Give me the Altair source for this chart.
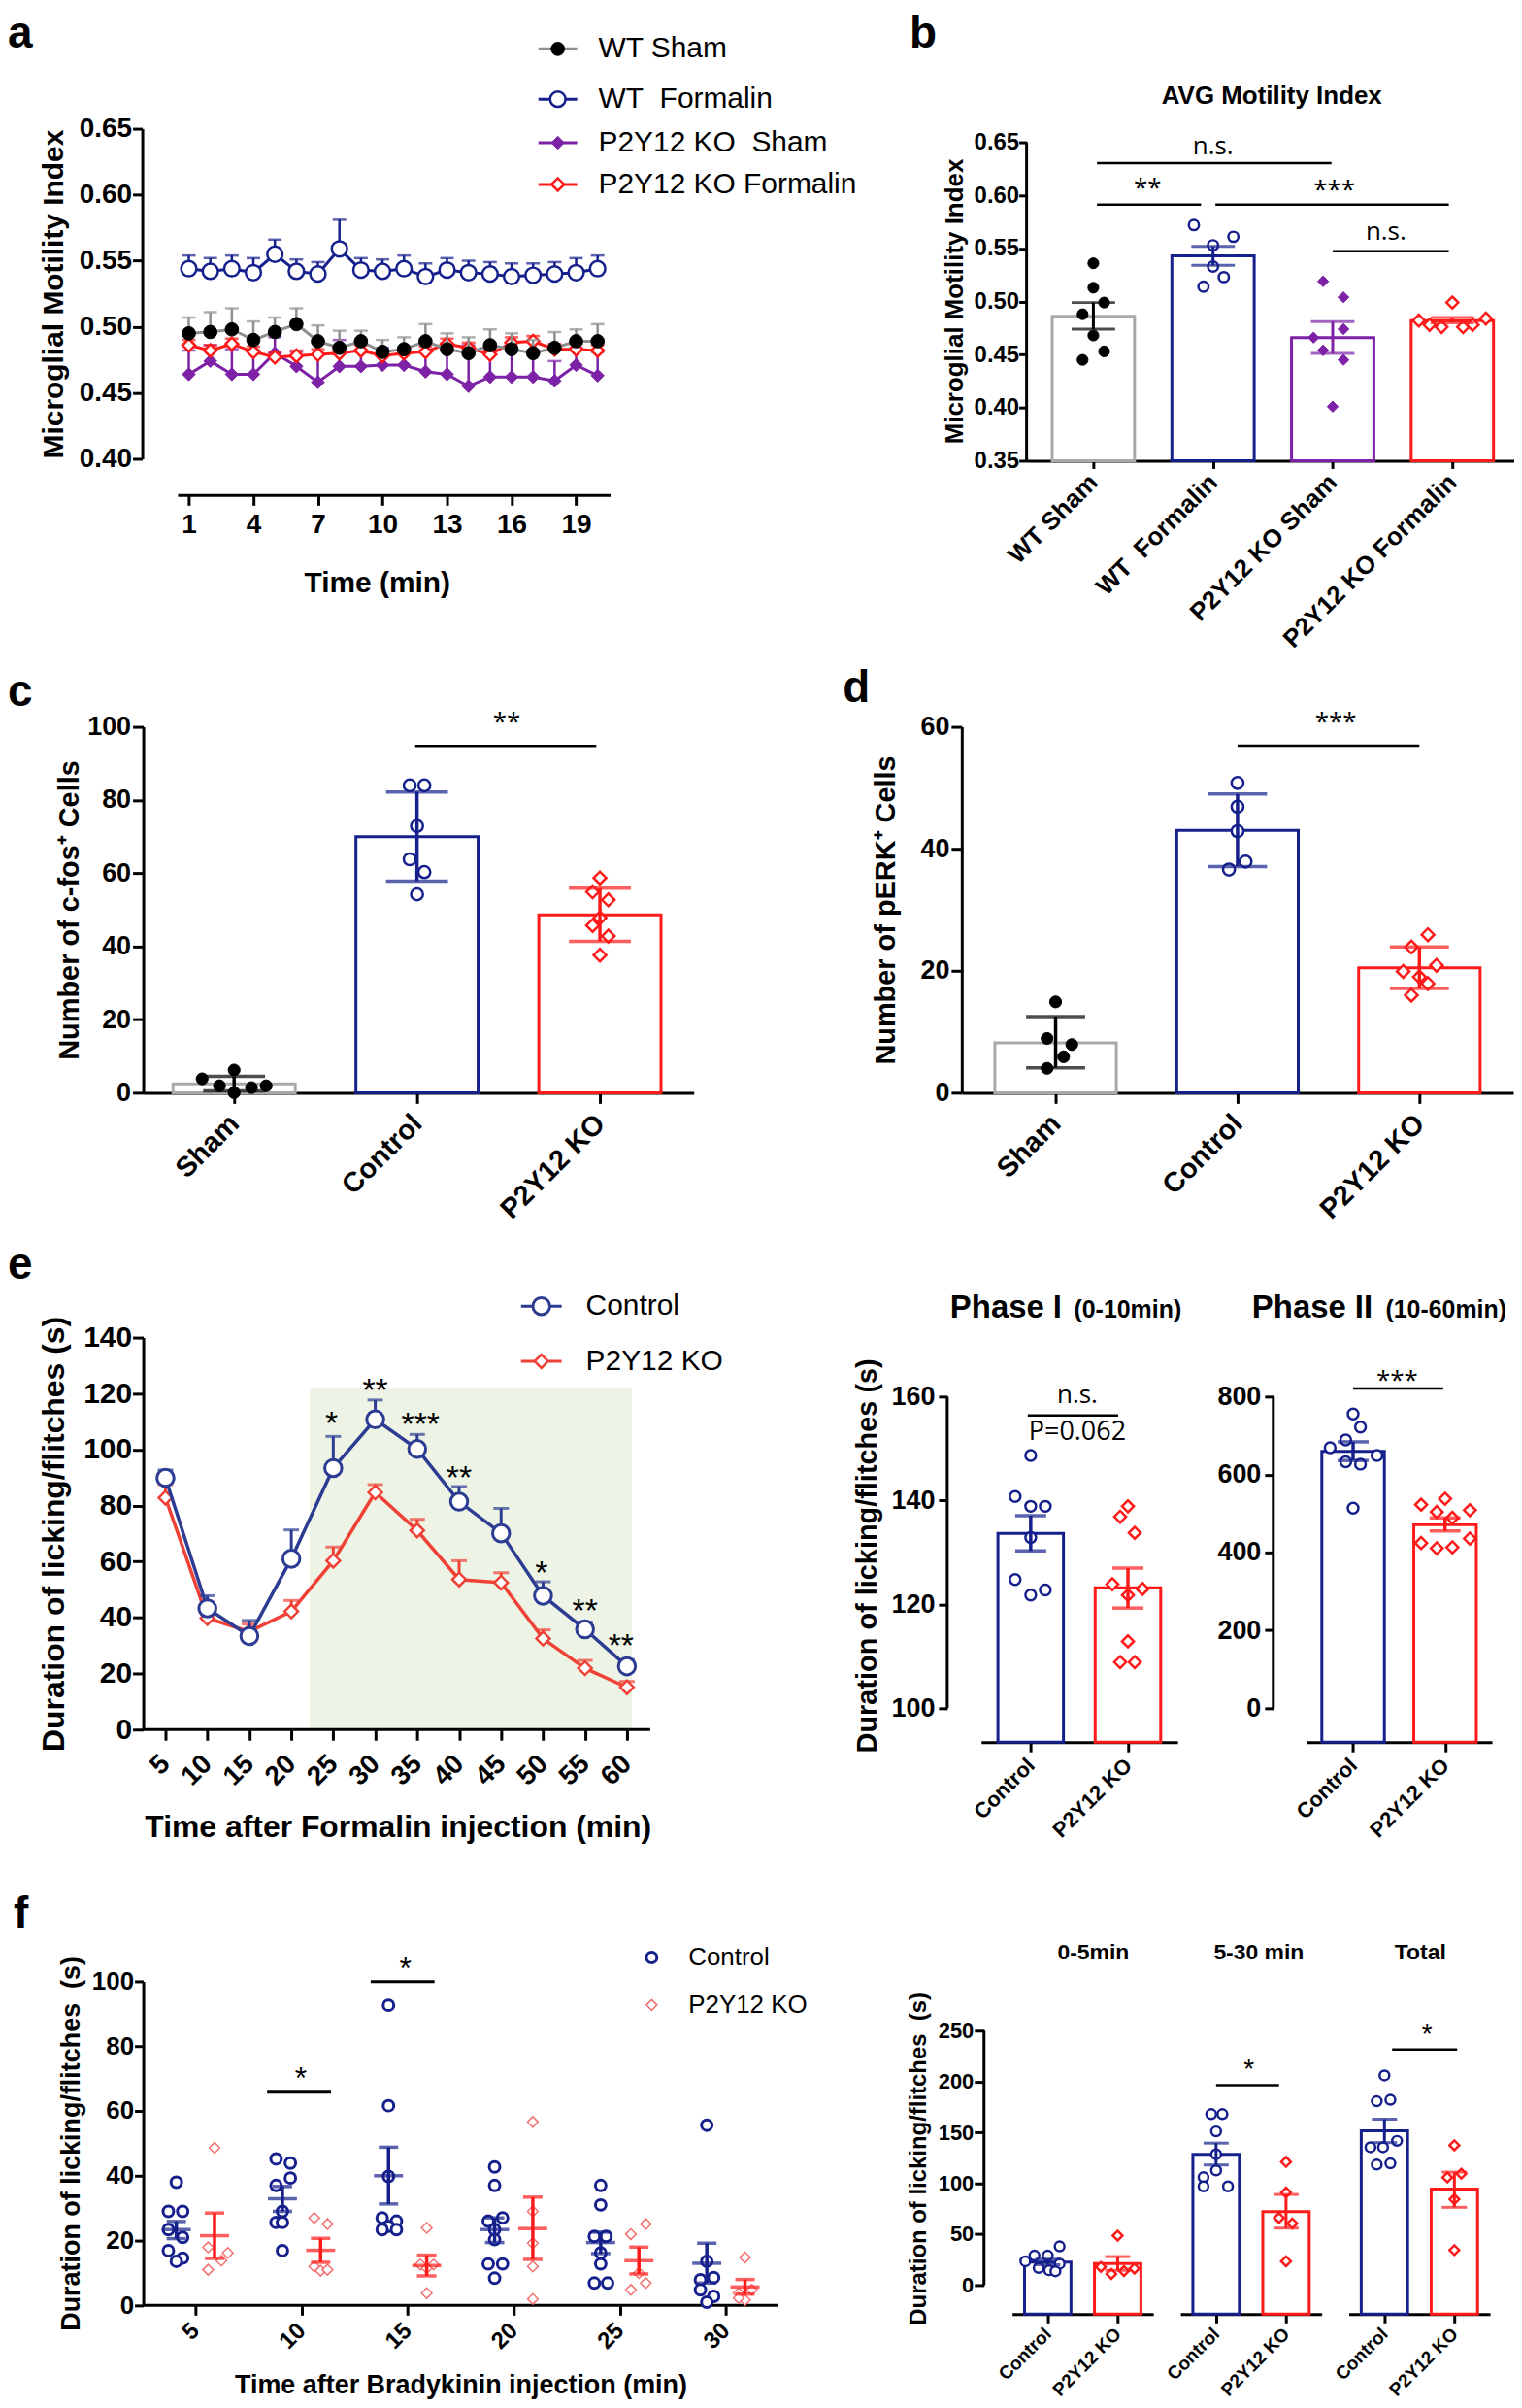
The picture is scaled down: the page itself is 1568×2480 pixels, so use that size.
import json
import altair as alt
import pandas as pd

SANS = "Liberation Sans"
HUM = "Open Sans"
NB = "\u00a0"

NAVY = "#16208c"
NAVY_E = "#2d3c93"
RED = "#ff1a1a"
RED_E = "#ef4136"
RED_PALE = "#f47171"
GRAY_BAR = "#a9a9a9"
GRAY_LINE = "#8e8e8e"
PURPLE = "#7d22a6"
GREEN_BG = "#edf4e6"

# ============================ DATA ============================
# (a) microglial motility time course
a_minutes = list(range(1, 21))
a_xticks = [1, 4, 7, 10, 13, 16, 19]
a_yticks = [0.40, 0.45, 0.50, 0.55, 0.60, 0.65]
a_names = ["WT Sham", "WT" + NB + " Formalin", "P2Y12 KO" + NB + " Sham", "P2Y12 KO Formalin"]
a_wt_sham = [0.495, 0.496, 0.498, 0.490, 0.496, 0.502, 0.489, 0.484, 0.489, 0.481,
             0.483, 0.489, 0.483, 0.480, 0.486, 0.483, 0.480, 0.484, 0.489, 0.489]
a_wt_sham_top = [0.507, 0.511, 0.514, 0.504, 0.507, 0.514, 0.501, 0.497, 0.497, 0.490,
                 0.492, 0.502, 0.495, 0.492, 0.498, 0.495, 0.490, 0.496, 0.498, 0.502]
a_wt_form = [0.544, 0.542, 0.544, 0.541, 0.555, 0.542, 0.540, 0.559, 0.543, 0.542,
             0.544, 0.538, 0.543, 0.541, 0.540, 0.538, 0.539, 0.540, 0.541, 0.544]
a_wt_form_top = [0.554, 0.552, 0.554, 0.552, 0.566, 0.551, 0.549, 0.581, 0.552, 0.551,
                 0.554, 0.548, 0.552, 0.550, 0.549, 0.548, 0.548, 0.549, 0.552, 0.554]
a_ko_sham = [0.464, 0.474, 0.464, 0.464, 0.480, 0.470, 0.458, 0.470, 0.470, 0.471,
             0.471, 0.466, 0.464, 0.455, 0.462, 0.462, 0.462, 0.459, 0.471, 0.463]
a_ko_sham_top = [0.482, 0.486, 0.483, 0.482, 0.492, 0.481, 0.479, 0.490, 0.488, 0.484,
                 0.484, 0.482, 0.482, 0.486, 0.482, 0.483, 0.482, 0.474, 0.484, 0.481]
a_ko_form = [0.486, 0.482, 0.487, 0.481, 0.477, 0.478, 0.479, 0.480, 0.482, 0.478,
             0.480, 0.481, 0.487, 0.484, 0.479, 0.488, 0.489, 0.483, 0.483, 0.482]
a_ko_form_top = [0.490, 0.486, 0.491, 0.485, 0.481, 0.482, 0.483, 0.484, 0.486, 0.482,
                 0.484, 0.485, 0.491, 0.488, 0.483, 0.492, 0.493, 0.487, 0.487, 0.486]

# (b) average motility index
b_groups = ["WT Sham", "WT" + NB + " Formalin", "P2Y12 KO Sham", "P2Y12 KO Formalin"]
b_yticks = [0.35, 0.40, 0.45, 0.50, 0.55, 0.60, 0.65]
b_mean = [0.486, 0.543, 0.466, 0.482]
b_lo = [0.474, 0.534, 0.451, 0.480]
b_hi = [0.499, 0.552, 0.481, 0.485]
b_points = [[0.536, 0.513, 0.499, 0.488, 0.468, 0.453, 0.445],
            [0.572, 0.561, 0.553, 0.533, 0.523, 0.514],
            [0.519, 0.504, 0.474, 0.466, 0.454, 0.445, 0.401],
            [0.482, 0.478, 0.476, 0.499, 0.476, 0.478, 0.484]]
b_jitter = [[0.0, 0.0, 0.09, -0.09, 0.0, 0.09, -0.09],
            [-0.16, 0.17, 0.0, 0.0, 0.09, -0.08],
            [-0.08, 0.09, 0.09, -0.16, -0.08, 0.09, 0.0],
            [-0.28, -0.19, -0.09, 0.0, 0.09, 0.17, 0.28]]
b_sig_x1 = [0.03, 0.03, 1.02, 2.0]
b_sig_x2 = [1.99, 0.90, 2.97, 2.97]
b_sig_y = [0.6304, 0.5912, 0.5912, 0.5474]
b_ns_x, b_ns_y = [1.0, 2.445], [0.6463, 0.5652]
b_star_text, b_star_x, b_star_y = ["**", "***"], [0.453, 2.013], [0.6126, 0.6107]

# (c) c-fos
c_groups = ["Sham", "Control", "P2Y12 KO"]
c_mean = [2.4, 70.0, 48.6]
c_lo = [0.5, 57.8, 41.4]
c_hi = [4.5, 82.2, 55.9]
c_points = [[3.8, 6.2, 1.9, 1.4, 1.9, 0.0],
            [84.0, 84.0, 72.9, 63.8, 60.3, 54.2],
            [58.7, 54.9, 52.7, 47.8, 45.7, 42.8, 37.6]]
c_jitter = [[-0.175, 0.0, -0.08, 0.095, 0.175, 0.0],
            [-0.04, 0.04, 0.0, -0.04, 0.04, 0.0],
            [0.0, -0.04, 0.046, 0.0, -0.04, 0.046, 0.0]]
c_sig = (0.99, 1.98, 94.8, "**", 1.49, 103.0)

# (d) pERK
d_mean = [8.2, 43.0, 20.5]
d_lo = [4.1, 37.1, 17.1]
d_hi = [12.5, 49.0, 23.9]
d_points = [[14.9, 8.9, 7.9, 5.9, 4.0],
            [50.8, 46.9, 42.9, 37.9, 36.6],
            [25.9, 23.9, 20.9, 19.9, 19.0, 17.9, 16.0]]
d_jitter = [[0.0, -0.047, 0.089, 0.044, -0.047],
            [0.0, 0.0, 0.0, 0.044, -0.047],
            [0.047, -0.044, 0.094, -0.089, 0.0, 0.047, -0.044]]
d_sig = (1.0, 2.0, 56.9, "***", 1.54, 61.8)

# (e) formalin time course
e_times = [5, 10, 15, 20, 25, 30, 35, 40, 45, 50, 55, 60]
e_ctrl = [89.9, 43.3, 33.4, 61.0, 93.4, 110.8, 100.2, 81.4, 70.1, 47.8, 35.8, 22.6]
e_ctrl_top = [92.7, 47.8, 39.0, 71.3, 104.7, 117.7, 105.4, 86.8, 79.0, 52.8, 38.4, 25.0]
e_ko = [82.8, 39.8, 35.0, 42.2, 60.3, 84.7, 71.1, 53.6, 52.5, 32.5, 21.9, 15.1]
e_ko_top = [87.5, 45.4, 37.7, 46.1, 65.2, 87.5, 75.1, 60.3, 56.0, 35.6, 24.7, 17.2]
e_phase2 = (22.2, 60.6, 0, 122)
e_star_text = ["*", "**", "***", "**", "*", "**", "**"]
e_star_x = [24.8, 30.0, 35.4, 40.0, 49.8, 55.0, 59.3]
e_star_y = [112.0, 124.0, 111.6, 92.5, 58.8, 45.0, 32.7]

# (e) phase I / phase II
ph_groups = ["Control", "P2Y12 KO"]
p1_mean, p1_lo, p1_hi = [133.7, 123.2], [130.3, 119.3], [137.1, 127.0]
p1_points = [[148.7, 140.8, 138.9, 138.9, 132.9, 124.8, 121.8, 122.8],
             [138.9, 136.9, 133.8, 123.9, 121.8, 123.0, 112.9, 108.9, 108.9]]
p1_jitter = [[0.0, -0.16, 0.0, 0.15, 0.0, -0.16, 0.0, 0.15],
             [0.0, -0.08, 0.07, -0.16, 0.0, 0.15, 0.0, -0.08, 0.07]]
p2_mean, p2_lo, p2_hi = [659.6, 471.0], [636.0, 455.0], [684.0, 489.0]
p2_points = [[755.6, 721.8, 688.9, 669.0, 649.0, 632.9, 626.7, 513.8],
             [537.8, 522.7, 508.4, 504.0, 489.0, 424.0, 410.7, 413.3, 435.6]]
p2_jitter = [[0.0, 0.08, -0.08, -0.25, 0.26, -0.08, 0.08, 0.0],
             [0.0, -0.26, 0.27, -0.09, 0.08, -0.26, -0.09, 0.08, 0.27]]

# (f) bradykinin time course
f_times = [5, 10, 15, 20, 25, 30]
f_ctrl_pts = [[38.0, 29.0, 29.0, 23.4, 21.0, 16.9, 14.6, 13.6],
              [45.2, 43.9, 39.3, 37.0, 29.0, 25.6, 25.6, 16.9],
              [92.6, 61.6, 39.8, 27.0, 26.0, 24.4, 23.4, 23.4],
              [42.7, 37.0, 26.0, 27.0, 23.4, 20.3, 12.8, 12.8, 8.4],
              [37.0, 31.0, 21.3, 21.3, 16.2, 12.8, 6.9, 6.9],
              [55.6, 13.6, 7.9, 8.6, 4.8, 2.8, 1.0]]
f_ctrl_jit = [[0.0, -0.375, 0.3, -0.375, 0.3, -0.375, 0.3, 0.0],
              [-0.3, 0.375, 0.375, -0.3, 0.0, -0.3, 0.0, 0.0],
              [0.0, 0.0, 0.0, -0.3, 0.375, 0.0, 0.375, -0.3],
              [0.0, 0.0, -0.3, 0.375, 0.0, 0.0, -0.3, 0.375, 0.0],
              [0.0, 0.0, -0.3, 0.25, 0.0, 0.0, -0.3, 0.325],
              [0.0, 0.0, -0.3, 0.325, -0.3, 0.325, 0.0]]
f_ctrl_mean = [23.4, 32.9, 40.0, 23.4, 19.4, 13.0]
f_ctrl_lo = [20.6, 29.0, 31.3, 19.4, 16.0, 6.9]
f_ctrl_hi = [25.9, 36.7, 48.8, 27.0, 22.6, 19.2]
f_ko_pts = [[48.6, 17.9, 16.2, 13.8, 11.0],
            [27.0, 25.1, 12.0, 10.7, 11.0],
            [23.9, 12.6, 12.6, 11.5, 3.8],
            [56.6, 29.0, 19.2, 12.0, 2.0],
            [22.0, 25.1, 10.0, 4.8, 6.9],
            [14.8, 3.8, 4.8, 1.7, 2.3]]
f_ko_jit = [[0.0, -0.3, 0.625, 0.325, -0.3],
            [-0.3, 0.325, -0.3, 0.0, 0.325],
            [0.0, -0.3, 0.325, 0.0, 0.0],
            [0.0, 0.0, 0.0, 0.0, 0.0],
            [-0.375, 0.325, 0.0, -0.375, 0.325],
            [0.0, -0.3, 0.325, 0.0, -0.3]]
f_ko_mean = [21.5, 17.0, 12.3, 23.7, 13.8, 5.7]
f_ko_lo = [14.5, 13.3, 9.1, 14.2, 9.7, 3.5]
f_ko_hi = [28.5, 20.7, 15.5, 33.4, 18.0, 8.0]
f_sig_x1, f_sig_x2, f_sig_y = [8.38, 13.26], [11.39, 16.27], [65.8, 99.9]
f_star_x, f_star_y = [9.97, 14.9], [72.7, 106.4]

# (f) summary bars
fr_titles = ["0-5min", "5-30 min", "Total"]
fr_mean = [[22.7, 21.2], [128.5, 72.3], [151.5, 94.4]]
fr_lo = [[20.0, 14.5], [118.0, 56.0], [140.0, 76.4]]
fr_hi = [[25.5, 28.0], [139.5, 89.0], [163.0, 111.0]]
fr_pts = [[[38.0, 29.0, 29.0, 23.4, 21.0, 16.9, 14.6, 13.6], [48.6, 17.9, 16.2, 13.8, 11.0]],
          [[168.0, 168.0, 151.0, 128.5, 112.7, 106.0, 97.0, 97.0], [121.0, 91.0, 66.0, 60.6, 23.4]],
          [[206.0, 180.6, 182.0, 141.7, 135.4, 135.4, 118.4, 119.6], [137.3, 105.8, 109.5, 84.3, 34.4]]]
fr_jit = [[[0.17, -0.19, 0.0, -0.32, 0.17, -0.13, 0.02, 0.11], [0.0, -0.24, 0.24, 0.09, -0.09]],
          [[-0.07, 0.09, 0.0, 0.0, 0.0, -0.18, -0.18, 0.17], [0.0, 0.0, -0.1, 0.09, 0.0]],
          [[0.0, -0.11, 0.085, 0.18, -0.2, -0.02, -0.11, 0.085], [0.0, -0.1, 0.1, 0.0, 0.0]]]
fr_sig = {1: (0.0, 0.9, 196.3, 0.47, 219.1), 2: (0.11, 1.04, 231.5, 0.61, 253.3)}


# ============================ HELPERS ============================
def lin(lo, hi):
    return alt.Scale(domain=[lo, hi], nice=False, zero=False)


def names_expr(names):
    return json.dumps(names) + "[datum.value]"


def text_px(s, x, y, size, weight="bold", align="left", baseline="top", font=SANS):
    return alt.Chart(pd.DataFrame({"s": [s]})).mark_text(
        font=font, fontSize=size, fontWeight=weight, align=align, baseline=baseline, color="black"
    ).encode(x=alt.value(x), y=alt.value(y), text="s:N")


def frame(top, bottom, left=-140):
    return alt.Chart(pd.DataFrame({"s": [0]})).mark_rule(opacity=0, strokeWidth=1, color="white").encode(
        x=alt.value(left), y=alt.value(top), y2=alt.value(bottom))


def legend_row(x0, x1, xt, y, label, line_color, shape, fill, stroke, size, sw, fsize):
    d = pd.DataFrame({"s": [label]})
    out = []
    if line_color is not None:
        out.append(alt.Chart(d).mark_rule(color=line_color, strokeWidth=3).encode(
            x=alt.value(x0), x2=alt.value(x1), y=alt.value(y)))
    out.append(alt.Chart(d).mark_point(shape=shape, size=size, filled=True, fill=fill, stroke=stroke,
                                       strokeWidth=sw, opacity=1).encode(x=alt.value((x0 + x1) / 2), y=alt.value(y)))
    out.append(alt.Chart(d).mark_text(font=SANS, fontSize=fsize, align="left", baseline="middle",
                                      color="black").encode(x=alt.value(xt), y=alt.value(y), text="s:N"))
    return out


def bar_layers(X, Y, means, lo, hi, base, half, bar_cols, err_cols, cap, err_w, pts, jit,
               shapes, fills, strokes, sizes, psw, bar_w=3):
    n = len(means)
    idx = list(range(n))
    bars = pd.DataFrame({"i": idx, "x0": [i - half for i in idx], "x1": [i + half for i in idx],
                         "m": means, "b": [base] * n, "c": bar_cols})
    layers = [alt.Chart(bars).mark_rect(fill="white", strokeWidth=bar_w).encode(
        x=X("x0:Q"), x2="x1:Q", y=Y("m:Q"), y2="b:Q", stroke=alt.Stroke("c:N", scale=None))]
    for g in idx:
        df = pd.DataFrame({"x": [g + j for j in jit[g]], "v": pts[g]})
        layers.append(alt.Chart(df).mark_point(shape=shapes[g], size=sizes[g], filled=True, fill=fills[g],
                                               stroke=strokes[g], strokeWidth=psw[g], opacity=1).encode(
            x=X("x:Q"), y=Y("v:Q")))
    err = pd.DataFrame({"i": idx, "lo": lo, "hi": hi, "c": err_cols})
    layers.append(alt.Chart(err).mark_rule(strokeWidth=err_w).encode(
        x=X("i:Q"), y=Y("lo:Q"), y2="hi:Q", stroke=alt.Stroke("c:N", scale=None)))
    caps = pd.DataFrame({"i": idx * 2, "y": list(lo) + list(hi), "c": list(err_cols) * 2})
    layers.append(alt.Chart(caps).mark_tick(orient="horizontal", size=cap, thickness=err_w).encode(
        x=X("i:Q"), y=Y("y:Q"), color=alt.Color("c:N", scale=None)))
    return layers


def sig_rules(X, Y, x1, x2, y, lw=2.5):
    df = pd.DataFrame({"x1": x1, "x2": x2, "y": y})
    return alt.Chart(df).mark_rule(color="black", strokeWidth=lw).encode(x=X("x1:Q"), x2="x2:Q", y=Y("y:Q"))


def sig_text(X, Y, texts, xs, ys, size, font=HUM, star=False):
    df = pd.DataFrame({"t": texts, "x": xs, "y": ys})
    dy = round(0.27 * size) if star else 0
    return alt.Chart(df).mark_text(font=font, fontSize=size, color="black", align="center",
                                   baseline="middle", dy=dy).encode(x=X("x:Q"), y=Y("y:Q"), text="t:N")


def y_rule(Y, lo, hi, xpix):
    df = pd.DataFrame({"lo": [lo], "hi": [hi]})
    return alt.Chart(df).mark_rule(color="black", strokeWidth=3).encode(x=alt.value(xpix), y=Y("lo:Q"), y2="hi:Q")


def x_rule(X, lo, hi, ypix):
    df = pd.DataFrame({"x0": [lo], "x1": [hi]})
    return alt.Chart(df).mark_rule(color="black", strokeWidth=3).encode(x=X("x0:Q"), x2="x1:Q", y=alt.value(ypix))


# ============================ PANEL a ============================
A_W, A_H, A_XOFF = 483, 341, 38
a_xs, a_ys = lin(-1.119, 20.6), lin(0.40, 0.65)
a_xax = alt.Axis(title="Time (min)", values=a_xticks, offset=A_XOFF, domain=False, labelAngle=0,
                 labelFontSize=28, titleFontSize=30, tickSize=10, labelPadding=6, titlePadding=31)
a_yax = alt.Axis(title="Microglial Motility Index", values=a_yticks, format=".2f", offset=1,
                 labelFontSize=28, titleFontSize=30, tickSize=10, labelPadding=1, titlePadding=11)


def aX(f):
    return alt.X(f, scale=a_xs, axis=a_xax)


def aY(f):
    return alt.Y(f, scale=a_ys, axis=a_yax)


a_style = {
    a_names[0]: (a_wt_sham, a_wt_sham_top, GRAY_LINE, "circle", "black", "black", 190, 1),
    a_names[1]: (a_wt_form, a_wt_form_top, NAVY, "circle", "white", NAVY, 250, 2.5),
    a_names[2]: (a_ko_sham, a_ko_sham_top, PURPLE, "diamond", PURPLE, PURPLE, 180, 1),
    a_names[3]: (a_ko_form, a_ko_form_top, RED, "diamond", "white", RED, 170, 2.5),
}
a_layers = [frame(-121, 548), text_px("a", -140, -120, 46), x_rule(aX, 0.5, 20.6, A_H + A_XOFF)]
for name in [a_names[2], a_names[3], a_names[0], a_names[1]]:
    v, top, lc, shp, fi, st, sz, sw = a_style[name]
    base = alt.Chart(pd.DataFrame({"t": a_minutes, "v": v, "top": top}))
    a_layers += [
        base.mark_rule(color=lc, strokeWidth=2.5).encode(x=aX("t:Q"), y=aY("v:Q"), y2="top:Q"),
        base.mark_tick(color=lc, orient="horizontal", size=14, thickness=2.5).encode(x=aX("t:Q"), y=aY("top:Q")),
        base.mark_line(color=lc, strokeWidth=3).encode(x=aX("t:Q"), y=aY("v:Q")),
        base.mark_point(shape=shp, size=sz, filled=True, fill=fi, stroke=st, strokeWidth=sw,
                        opacity=1).encode(x=aX("t:Q"), y=aY("v:Q")),
    ]
for k, y in zip(range(4), [-82.5, -30.5, 14.5, 57.5]):
    v, top, lc, shp, fi, st, sz, sw = a_style[a_names[k]]
    a_layers += legend_row(408.5, 448.5, 470.5, y, a_names[k], lc, shp, fi, st, sz, sw, 30)
chart_a = alt.layer(*a_layers).properties(width=A_W, height=A_H)

# ============================ PANEL b ============================
B_W, B_H = 504, 343
b_xs, b_ys = lin(-0.558, 3.517), lin(0.35, 0.6628)
b_xax = alt.Axis(title=None, values=[0, 1, 2, 3], labelExpr=names_expr(b_groups), labelAngle=-45,
                 labelAlign="right", labelBaseline="middle", labelFontSize=26, tickSize=8, labelPadding=10,
                 labelLimit=500)
b_yax = alt.Axis(title="Microglial Motility Index", values=b_yticks, format=".2f", domain=False,
                 labelFontSize=24, titleFontSize=26, tickSize=8, labelPadding=0, titlePadding=7, titleY=178)


def bX(f):
    return alt.X(f, scale=b_xs, axis=b_xax)


def bY(f):
    return alt.Y(f, scale=b_ys, axis=b_yax)


b_layers = [text_px("b", -121, -120, 46), y_rule(bY, 0.35, 0.65, 0)]
b_layers += bar_layers(bX, bY, b_mean, b_lo, b_hi, 0.35, 0.344,
                       [GRAY_BAR, NAVY, PURPLE, RED], ["black", NAVY, PURPLE, RED], 45, 3,
                       b_points, b_jitter, ["circle", "circle", "diamond", "diamond"],
                       ["black", "white", PURPLE, "white"], ["black", NAVY, PURPLE, RED],
                       [125, 110, 130, 150], [1, 2.5, 1, 2.5])
b_layers += [sig_rules(bX, bY, b_sig_x1, b_sig_x2, b_sig_y),
             sig_text(bX, bY, ["n.s.", "n.s."], b_ns_x, b_ns_y, 26),
             sig_text(bX, bY, b_star_text, b_star_x, b_star_y, 26, star=True),
             text_px("AVG Motility Index", 253.5, -34, 26, align="center", baseline="middle")]
chart_b = alt.layer(*b_layers).properties(width=B_W, height=B_H)


# ============================ PANELS c, d ============================
def count_panel(letter, lpos, w, xdom, ydom, yticks, ytitle, tpad, means, lo, hi, pts, jit, sig, cap, add_frame):
    xs, ys = lin(*xdom), lin(*ydom)
    xax = alt.Axis(title=None, values=[0, 1, 2], labelExpr=names_expr(c_groups), labelAngle=-45,
                   labelAlign="right", labelBaseline="middle", labelFontSize=29, tickSize=11, labelPadding=16,
                   labelLimit=500)
    yax = alt.Axis(title=ytitle, values=yticks, labelFontSize=27, titleFontSize=29, tickSize=11,
                   labelPadding=2, titlePadding=tpad)
    X = lambda f: alt.X(f, scale=xs, axis=xax)
    Y = lambda f: alt.Y(f, scale=ys, axis=yax)
    layers = []
    if add_frame:
        layers.append(frame(-70, 531))
    layers.append(text_px(letter, lpos[0], lpos[1], 46))
    layers += bar_layers(X, Y, means, lo, hi, 0, 0.334, [GRAY_BAR, NAVY, RED], ["black", NAVY, RED], cap, 3.5,
                         pts, jit, ["circle", "circle", "diamond"], ["black", "white", "white"],
                         ["black", NAVY, RED], [150, 150, 170], [1, 2.5, 2.5])
    x1, x2, yl, st, sx, sy = sig
    layers += [sig_rules(X, Y, [x1], [x2], [yl]), sig_text(X, Y, [st], [sx], [sy], 26, star=True)]
    return alt.layer(*layers).properties(width=w, height=378)


chart_c = count_panel("c", (-140, -58), 569, (-0.497, 2.513), (0, 100), [0, 20, 40, 60, 80, 100],
                      "Number of c-fos\u207a Cells", 3, c_mean, c_lo, c_hi, c_points, c_jitter, c_sig, 64, True)
chart_d = count_panel("d", (-123, -62), 570, (-0.516, 2.516), (0, 60), [0, 20, 40, 60],
                      "Number of pERK\u207a Cells", 21, d_mean, d_lo, d_hi, d_points, d_jitter, d_sig, 61, False)

# ============================ PANEL e (time course) ============================
E_W, E_H = 733, 405
e_xs, e_ys = lin(2.35, 86.87), lin(0, 140)
e_xax = alt.Axis(title="Time after Formalin injection (min)", values=e_times, domain=False, labelAngle=-45,
                 labelAlign="right", labelBaseline="middle", labelFontSize=28, titleFontSize=32, tickSize=11,
                 labelPadding=20, titlePadding=23, titleX=263)
e_yax = alt.Axis(title="Duration of licking/flitches (s)", values=[0, 20, 40, 60, 80, 100, 120, 140],
                 labelFontSize=30, titleFontSize=32, tickSize=11, labelPadding=1, titlePadding=13)


def eX(f):
    return alt.X(f, scale=e_xs, axis=e_xax)


def eY(f):
    return alt.Y(f, scale=e_ys, axis=e_yax)


e_layers = [frame(-100, 570), text_px("e", -140, -97, 46)]
gx0, gx1, gy0, gy1 = e_phase2
e_layers.append(alt.Chart(pd.DataFrame({"x0": [gx0], "x1": [gx1], "y0": [gy0], "y1": [gy1]})).mark_rect(
    color=GREEN_BG).encode(x=eX("x0:Q"), x2="x1:Q", y=eY("y0:Q"), y2="y1:Q"))
e_layers.append(x_rule(eX, 2.35, 62.77, E_H))
e_series = [(e_ko, e_ko_top, RED_E, "diamond", 196, 2.5), (e_ctrl, e_ctrl_top, NAVY_E, "circle", 310, 3)]
for v, top, col, shp, sz, sw in e_series:
    base = alt.Chart(pd.DataFrame({"t": e_times, "v": v, "top": top}))
    e_layers += [
        base.mark_line(color=col, strokeWidth=3.5).encode(x=eX("t:Q"), y=eY("v:Q")),
        base.mark_rule(color=col, strokeWidth=3).encode(x=eX("t:Q"), y=eY("v:Q"), y2="top:Q"),
        base.mark_tick(color=col, orient="horizontal", size=16, thickness=3).encode(x=eX("t:Q"), y=eY("top:Q")),
        base.mark_point(shape=shp, size=sz, filled=True, fill="white", stroke=col, strokeWidth=sw,
                        opacity=1).encode(x=eX("t:Q"), y=eY("v:Q")),
    ]
e_layers.append(sig_text(eX, eY, e_star_text, e_star_x, e_star_y, 34, font=SANS, star=True))
e_layers += legend_row(390.5, 432.5, 457.5, -32.5, "Control", NAVY_E, "circle", "white", NAVY_E, 310, 3, 30)
e_layers += legend_row(390.5, 432.5, 457.5, 24.5, "P2Y12 KO", RED_E, "diamond", "white", RED_E, 196, 2.5, 30)
chart_e = alt.layer(*e_layers).properties(width=E_W, height=E_H)


# ============================ PHASE I / II ============================
def phase_panel(w, ydom, yticks, yoff, ytitle, means, lo, hi, pts, jit, half, titles, sig_layers_fn):
    xs, ys = lin(-0.51, 1.51), lin(*ydom)
    xax = alt.Axis(title=None, values=[0, 1], labelExpr=names_expr(ph_groups), labelAngle=-45,
                   labelAlign="right", labelBaseline="middle", labelFontSize=22, tickSize=10, labelPadding=10)
    yax = alt.Axis(title=ytitle, values=yticks, offset=yoff, domain=False, labelFontSize=27, titleFontSize=29,
                   tickSize=9, labelPadding=4, titlePadding=10, titleY=225)
    X = lambda f: alt.X(f, scale=xs, axis=xax)
    Y = lambda f: alt.Y(f, scale=ys, axis=yax)
    layers = [y_rule(Y, yticks[0], yticks[-1], -yoff)]
    layers += bar_layers(X, Y, means, lo, hi, ydom[0], half, [NAVY, RED], [NAVY, RED], 32, 3.5, pts, jit,
                         ["circle", "diamond"], ["white", "white"], [NAVY, RED], [120, 150], [2.5, 2.5])
    layers += sig_layers_fn(X, Y)
    big, small, x_big, x_small = titles
    layers += [text_px(big, x_big, -20.5, 33, baseline="alphabetic"),
               text_px(small, x_small, -20.5, 25, baseline="alphabetic")]
    return alt.layer(*layers).properties(width=w, height=418)


def p1_sig(X, Y):
    return [sig_rules(X, Y, [-0.03], [0.90], [156.4]),
            sig_text(X, Y, ["n.s."], [0.48], [160.3], 26),
            sig_text(X, Y, ["P=0.062"], [0.48], [153.2], 27)]


def p2_sig(X, Y):
    return [sig_rules(X, Y, [0.0], [0.98], [821.0]),
            sig_text(X, Y, ["***"], [0.48], [858.0], 26, star=True)]


chart_p1 = phase_panel(203, (93.48, 171.4), [100, 120, 140, 160], 35, "Duration of licking/flitches (s)",
                       p1_mean, p1_lo, p1_hi, p1_points, p1_jitter, 0.337,
                       ("Phase I", "(0-10min)", -32, 96), p1_sig)
chart_p2 = phase_panel(192, (-87.0, 951.6), [0, 200, 400, 600, 800], 34, None,
                       p2_mean, p2_lo, p2_hi, p2_points, p2_jitter, 0.34,
                       ("Phase II", "(10-60min)", -56, 82), p2_sig)

# ============================ PANEL f (time course) ============================
F_W, F_H = 870, 335
f_xs, f_ys = lin(2.54, 42.21), lin(0, 100)
f_xax = alt.Axis(title="Time after Bradykinin injection (min)", values=f_times, domain=False, labelAngle=-45,
                 labelAlign="right", labelBaseline="middle", labelFontSize=24, titleFontSize=27, tickSize=10,
                 labelPadding=12, titlePadding=20, titleX=328)
f_yax = alt.Axis(title="Duration of licking/flitches" + NB + " (s)", values=[0, 20, 40, 60, 80, 100],
                 labelFontSize=26, titleFontSize=27, tickSize=9, labelPadding=1, titlePadding=7)


def fX(f):
    return alt.X(f, scale=f_xs, axis=f_xax)


def fY(f):
    return alt.Y(f, scale=f_ys, axis=f_yax)


F_SHIFT = 0.9
f_layers = [frame(-95, 440), text_px("f", -134, -91, 46), x_rule(fX, 2.54, 32.46, F_H)]
for pts, jit, mean, lo, hi, sgn, col, pcol, shp, sz, sw in [
        (f_ctrl_pts, f_ctrl_jit, f_ctrl_mean, f_ctrl_lo, f_ctrl_hi, -1, NAVY, NAVY, "circle", 120, 3),
        (f_ko_pts, f_ko_jit, f_ko_mean, f_ko_lo, f_ko_hi, 1, RED, RED_PALE, "diamond", 120, 1.5)]:
    xs_, vs_ = [], []
    for t, p, j in zip(f_times, pts, jit):
        xs_ += [t + sgn * F_SHIFT + jj for jj in j]
        vs_ += p
    f_layers.append(alt.Chart(pd.DataFrame({"x": xs_, "v": vs_})).mark_point(
        shape=shp, size=sz, filled=True, fill="white", stroke=pcol, strokeWidth=sw, opacity=1).encode(
        x=fX("x:Q"), y=fY("v:Q")))
    sdf = pd.DataFrame({"x": [t + sgn * F_SHIFT for t in f_times], "m": mean, "lo": lo, "hi": hi})
    sb = alt.Chart(sdf)
    f_layers += [
        sb.mark_rule(color=col, strokeWidth=3.5).encode(x=fX("x:Q"), y=fY("lo:Q"), y2="hi:Q"),
        sb.mark_tick(color=col, orient="horizontal", size=30, thickness=3.5).encode(x=fX("x:Q"), y=fY("m:Q")),
        sb.mark_tick(color=col, orient="horizontal", size=20, thickness=3.5).encode(x=fX("x:Q"), y=fY("lo:Q")),
        sb.mark_tick(color=col, orient="horizontal", size=20, thickness=3.5).encode(x=fX("x:Q"), y=fY("hi:Q")),
    ]
f_layers += [sig_rules(fX, fY, f_sig_x1, f_sig_x2, f_sig_y, lw=3),
             sig_text(fX, fY, ["*", "*"], f_star_x, f_star_y, 32, font=SANS, star=True)]
f_layers += legend_row(525.5, 525.5, 563.5, -24.5, "Control", None, "circle", "white", NAVY, 120, 3, 26)
f_layers += legend_row(525.5, 525.5, 563.5, 24.5, "P2Y12 KO", None, "diamond", "white", RED_PALE, 120, 1.5, 26)
chart_f = alt.layer(*f_layers).properties(width=F_W, height=F_H)


# ============================ PANEL f (summary) ============================
def fr_panel(k, title_x):
    xs, ys = lin(-0.51, 1.51), lin(-28.5, 298.5)
    xax = alt.Axis(title=None, values=[0, 1], labelExpr=names_expr(ph_groups), labelAngle=-45,
                   labelAlign="right", labelBaseline="middle", labelFontSize=19, tickSize=9, labelPadding=8)
    if k == 0:
        yax = alt.Axis(title="Duration of licking/flitches" + NB + " (s)", values=[0, 50, 100, 150, 200, 250],
                       offset=29, domain=False, labelFontSize=22, titleFontSize=24, tickSize=10, labelPadding=1,
                       titlePadding=8, titleY=183)
    else:
        yax = None
    X = lambda f: alt.X(f, scale=xs, axis=xax)
    Y = lambda f: alt.Y(f, scale=ys, axis=yax)
    layers = []
    if k == 0:
        layers.append(y_rule(Y, 0, 250, -29))
    layers += bar_layers(X, Y, fr_mean[k], fr_lo[k], fr_hi[k], -28.5, 0.332, [NAVY, RED], [NAVY, RED], 26, 3,
                         fr_pts[k], fr_jit[k], ["circle", "diamond"], ["white", "white"], [NAVY, RED],
                         [100, 100], [2.5, 2.5])
    if k in fr_sig:
        x1, x2, yl, sx, sy = fr_sig[k]
        layers += [sig_rules(X, Y, [x1], [x2], [yl]), sig_text(X, Y, ["*"], [sx], [sy], 28, font=SANS, star=True)]
    layers.append(text_px(fr_titles[k], title_x, -29.5, 23, align="center", baseline="middle"))
    return alt.layer(*layers).properties(width=146, height=344)


chart_f1, chart_f2, chart_f3 = fr_panel(0, 84), fr_panel(1, 81), fr_panel(2, 74)

# ============================ LAYOUT ============================
row1 = alt.HConcatChart(hconcat=[chart_a, chart_b], spacing=430, bounds="flush")
row2 = alt.HConcatChart(hconcat=[chart_c, chart_d], spacing=277, bounds="flush")
row3 = alt.HConcatChart(hconcat=[chart_e, chart_p1, chart_p2], spacing=133, bounds="flush")
row4 = alt.HConcatChart(hconcat=[chart_f, chart_f1, chart_f2, chart_f3], spacing=28, bounds="flush")

chart = alt.VConcatChart(vconcat=[row1, row2, row3, row4], spacing=0, padding=0).configure_axis(
    labelFont=SANS, titleFont=SANS, labelFontWeight="bold", titleFontWeight="bold",
    labelColor="black", titleColor="black", tickColor="black", domainColor="black",
    tickWidth=3, domainWidth=3, grid=False, labelOverlap=False, labelFlush=False
).configure_view(strokeWidth=0)

chart.save("out.html", embed_options={"renderer": "svg", "actions": False})
